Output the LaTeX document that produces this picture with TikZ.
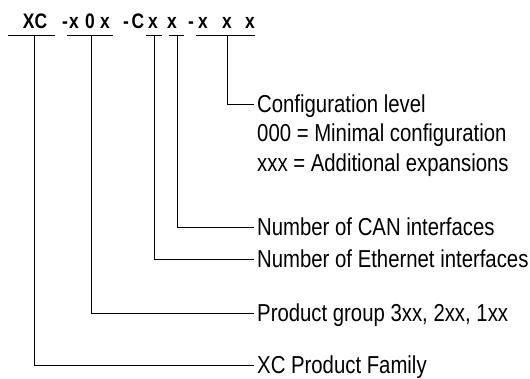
\documentclass[tikz,border=0pt]{standalone}
\usepackage{fontspec}
\setmainfont{Liberation Sans}[FakeStretch=0.83]
\usepackage{tikz}
\usetikzlibrary{positioning}

\tikzset{
	code/.style={font=\bfseries\fontsize{21}{22}\selectfont,anchor=base,inner sep=0pt},
	desc/.style={font=\fontsize{24.5}{26}\selectfont,anchor=west,inner xsep=3pt,inner ysep=0pt,text height=17pt,text depth=0pt},
	bar/.style={line width=0.9pt}
}

\begin{document}
\begin{tikzpicture}[x=1pt,y=-1pt]
		\useasboundingbox (0,0) rectangle (530,379);
		% type code
		\node[code] (XC) at (35,29) {XC};
		\node[code] (d1) at (65,29) {-};
		\node[code] (g1) at (74,29) {x};
		\node[code] (g2) at (90,29) {0};
		\node[code] (g3) at (105,29) {x};
		\node[code] (d2) at (126,29) {-};
		\node[code] (C) at (138,29) {C};
		\node[code] (eth) at (153,29) {x};
		\node[code] (can) at (172,29) {x};
		\node[code] (d3) at (191,29) {-};
		\node[code] (k1) at (203,29) {x};
		\node[code] (k2) at (227,29) {x};
		\node[code] (k3) at (250,29) {x};
		%
		\draw[bar] (8,35) -- (55,35) (67,35) -- (113,35) (146,35) -- (162,35)
			(169,35) -- (184,35) (196,35) -- (255,35);
		\coordinate (uXC) at (34,35);
		\coordinate (ugrp) at (91,35);
		\coordinate (ueth) at (154,35);
		\coordinate (ucan) at (177,35);
		\coordinate (ucfg) at (227,35);
		% descriptions
		\node[desc] (cfg) at (254,104) {Configuration level};
		\node[desc,below=12pt of cfg.south west,anchor=north west] (cfgmin) {000 = Minimal configuration};
		\node[desc,below=12pt of cfgmin.south west,anchor=north west] (cfgadd) {xxx = Additional expansions};
		\node[desc] (ncan) at (254,227) {Number of CAN interfaces};
		\node[desc] (neth) at (254,259) {Number of Ethernet interfaces};
		\node[desc] (grp) at (254,313) {Product group 3xx, 2xx, 1xx};
		\node[desc] (fam) at (254,365) {XC Product Family};
		%
		\draw[bar] (ucfg) |- (cfg.west);
		\draw[bar] (ucan) |- (ncan.west);
		\draw[bar] (ueth) |- (neth.west);
		\draw[bar] (ugrp) |- (grp.west);
		\draw[bar] (uXC) |- (fam.west);
	\end{tikzpicture}
\end{document}
